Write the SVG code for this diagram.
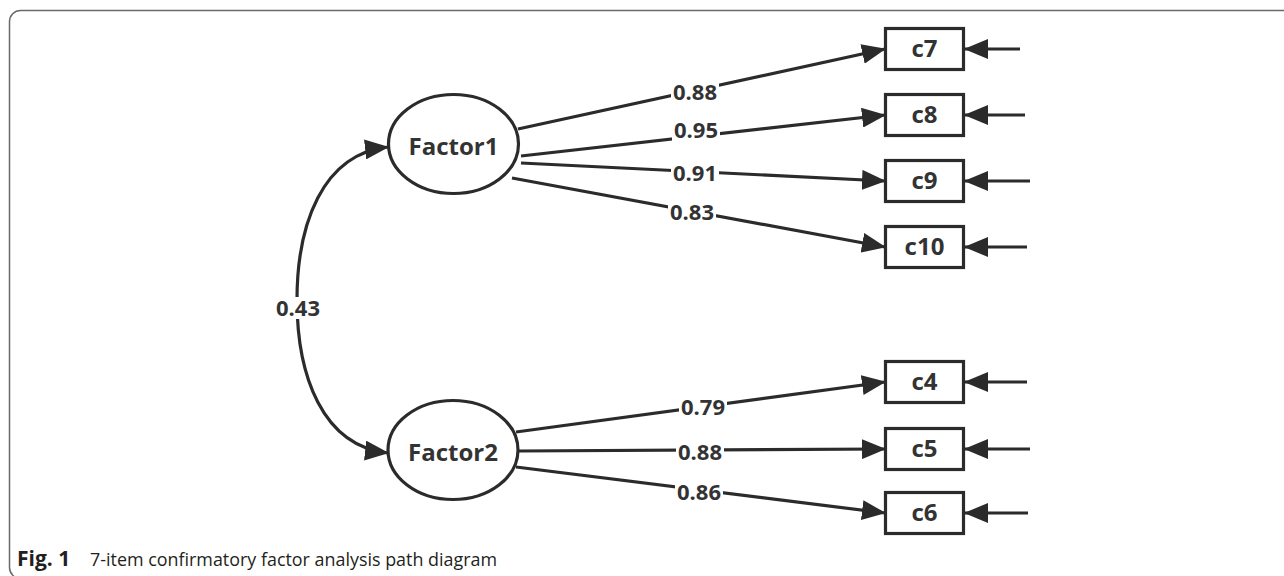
<svg xmlns="http://www.w3.org/2000/svg" width="1284" height="576" viewBox="0 0 1284 576">
<style>
.ln{fill:none;stroke:#2b2b2b;stroke-width:3.2}
.nd{fill:#fff;stroke:#2b2b2b;stroke-width:3.2}
.t{font-family:"Open Sans","Noto Sans",sans-serif;font-weight:bold;fill:#333;text-anchor:middle}
.lbl{font-size:22px}
.bg{fill:#fff}
.nt{font-size:24px}
</style>
<defs>
<marker id="ah" markerUnits="userSpaceOnUse" viewBox="0 0 24 20" refX="23" refY="10" markerWidth="24" markerHeight="20" orient="auto-start-reverse">
<path d="M0,0 L24,10 L0,20 z" fill="#2b2b2b"/>
</marker>
</defs>
<rect x="9.5" y="10.5" width="1300" height="568" rx="11" fill="none" stroke="#6a6a6a" stroke-width="1.5"/>
<g id="connectors">
<path class="ln" d="M388,147 C322,154 297,225 297,300 C297,375 322,446 388,453" marker-start="url(#ah)" marker-end="url(#ah)"/>
<line class="ln" x1="518" y1="129" x2="885" y2="49" marker-end="url(#ah)"/>
<line class="ln" x1="521" y1="156" x2="885" y2="115" marker-end="url(#ah)"/>
<line class="ln" x1="521" y1="163" x2="885" y2="181" marker-end="url(#ah)"/>
<line class="ln" x1="512" y1="178" x2="885" y2="247" marker-end="url(#ah)"/>
<line class="ln" x1="516" y1="432" x2="885" y2="382" marker-end="url(#ah)"/>
<line class="ln" x1="519" y1="451" x2="885" y2="449" marker-end="url(#ah)"/>
<line class="ln" x1="516" y1="467" x2="885" y2="513" marker-end="url(#ah)"/>
<line class="ln" x1="1020" y1="49" x2="965" y2="49" marker-end="url(#ah)"/>
<line class="ln" x1="1025" y1="115" x2="965" y2="115" marker-end="url(#ah)"/>
<line class="ln" x1="1030" y1="181" x2="965" y2="181" marker-end="url(#ah)"/>
<line class="ln" x1="1027" y1="247" x2="965" y2="247" marker-end="url(#ah)"/>
<line class="ln" x1="1027" y1="382" x2="965" y2="382" marker-end="url(#ah)"/>
<line class="ln" x1="1030" y1="449" x2="965" y2="449" marker-end="url(#ah)"/>
<line class="ln" x1="1028" y1="513" x2="965" y2="513" marker-end="url(#ah)"/>
<rect class="bg" x="274" y="297" width="48" height="22"/><text class="t lbl" x="298" y="316">0.43</text>
<rect class="bg" x="671" y="81" width="48" height="22"/><text class="t lbl" x="695" y="100">0.88</text>
<rect class="bg" x="672" y="119" width="48" height="22"/><text class="t lbl" x="696" y="138">0.95</text>
<rect class="bg" x="671" y="162" width="48" height="22"/><text class="t lbl" x="695" y="181">0.91</text>
<rect class="bg" x="668" y="201" width="48" height="22"/><text class="t lbl" x="692" y="220">0.83</text>
<rect class="bg" x="679" y="396" width="48" height="22"/><text class="t lbl" x="703" y="415">0.79</text>
<rect class="bg" x="676" y="441" width="48" height="22"/><text class="t lbl" x="700" y="460">0.88</text>
<rect class="bg" x="675" y="481" width="48" height="22"/><text class="t lbl" x="699" y="500">0.86</text>
</g>
<g id="factor1"><ellipse class="nd" cx="453.5" cy="144" rx="65" ry="49.5" stroke-width="2.8"/><text class="t nt" x="453.5" y="155">Factor1</text></g>
<g id="factor2"><ellipse class="nd" cx="453" cy="450" rx="65" ry="49.5" stroke-width="2.8"/><text class="t nt" x="453" y="461">Factor2</text></g>
<g id="c7"><rect class="nd" x="885.5" y="28.5" width="78" height="41"/><text class="t nt" x="924.5" y="57">c7</text></g>
<g id="c8"><rect class="nd" x="885.5" y="94.5" width="78" height="41"/><text class="t nt" x="924.5" y="123">c8</text></g>
<g id="c9"><rect class="nd" x="885.5" y="160.5" width="78" height="41"/><text class="t nt" x="924.5" y="189">c9</text></g>
<g id="c10"><rect class="nd" x="885.5" y="226.5" width="78" height="41"/><text class="t nt" x="924.5" y="255">c10</text></g>
<g id="c4"><rect class="nd" x="885.5" y="361.5" width="78" height="41"/><text class="t nt" x="924.5" y="390">c4</text></g>
<g id="c5"><rect class="nd" x="885.5" y="428.5" width="78" height="41"/><text class="t nt" x="924.5" y="457">c5</text></g>
<g id="c6"><rect class="nd" x="885.5" y="492.5" width="78" height="41"/><text class="t nt" x="924.5" y="521">c6</text></g>
<text x="17" y="566" font-family="'Open Sans','Noto Sans',sans-serif" font-size="18" fill="#231f20"><tspan font-weight="bold" font-size="21">Fig. 1</tspan><tspan x="90" textLength="407" lengthAdjust="spacingAndGlyphs">7-item confirmatory factor analysis path diagram</tspan></text>
</svg>
